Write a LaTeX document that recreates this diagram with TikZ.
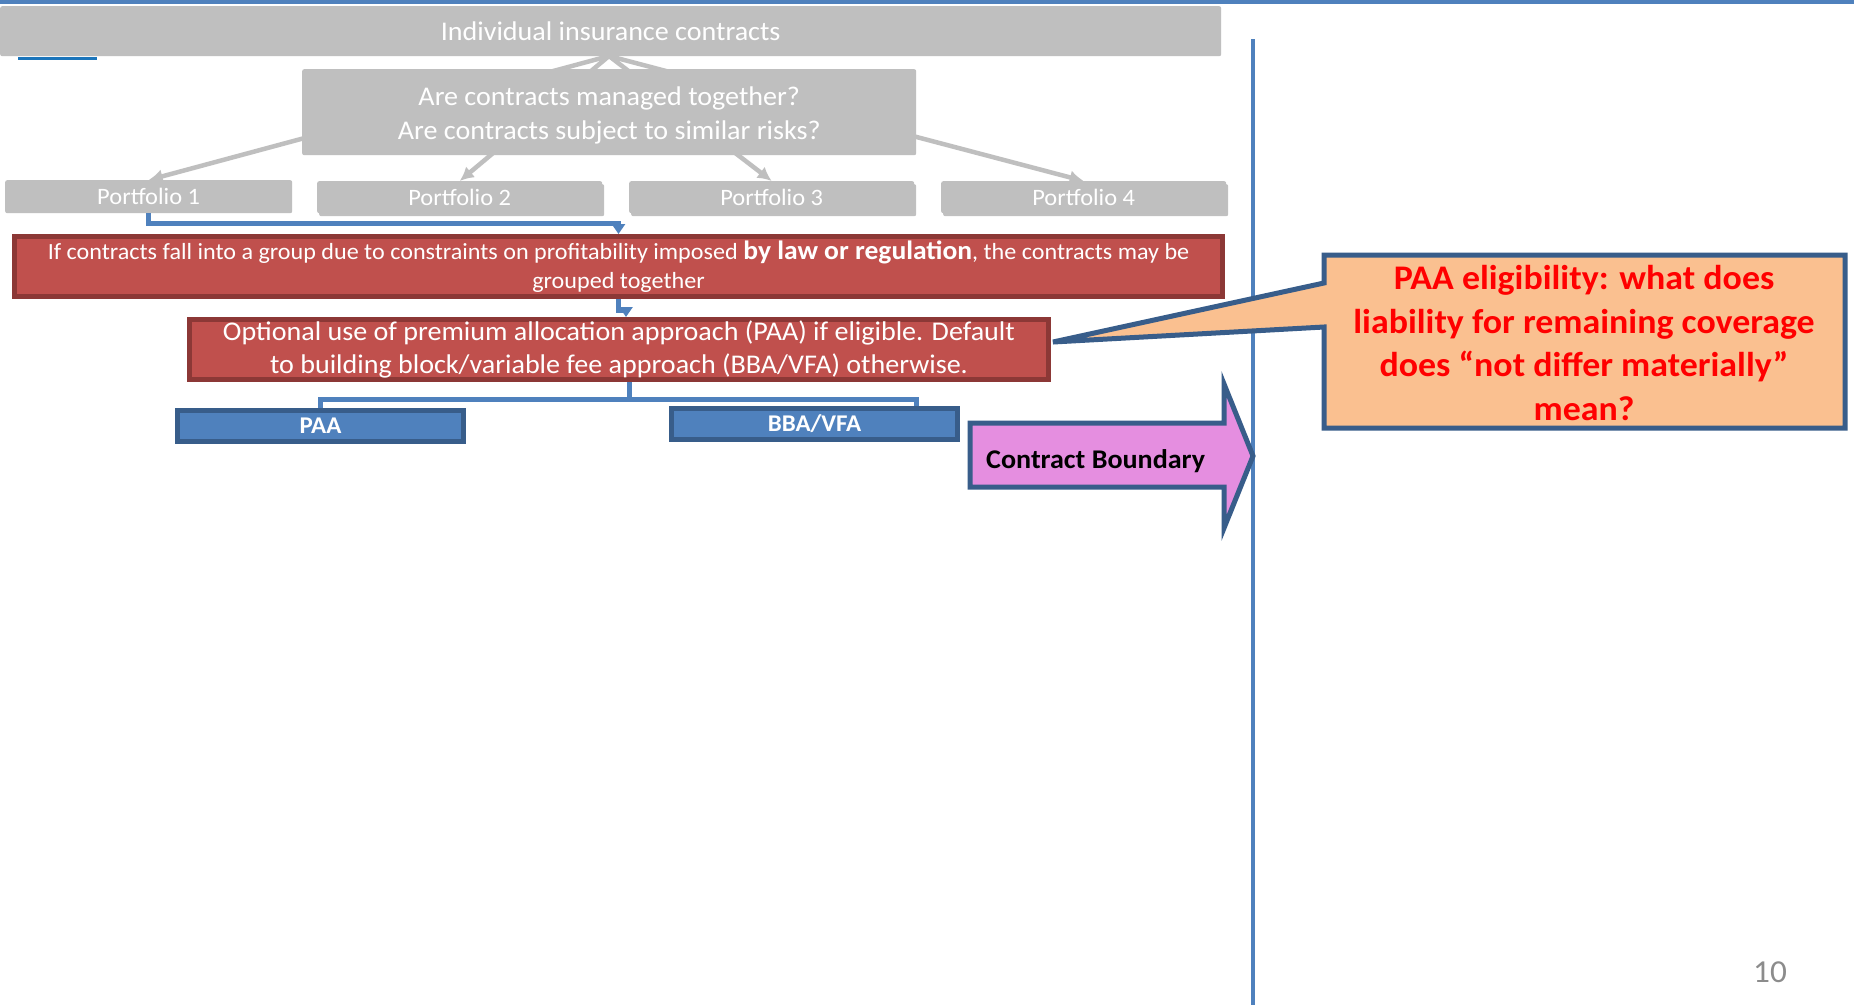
\documentclass[tikz,border=0pt]{standalone}
\usepackage{fontspec}
\setmainfont{Carlito}[FakeStretch=1.04]
\usetikzlibrary{arrows.meta,shadows,calc}
\definecolor{boxgray}{HTML}{BFBFBF}
\definecolor{accblue}{HTML}{4F81BD}
\definecolor{darkblue}{HTML}{385D8A}
\definecolor{accred}{HTML}{C0504D}
\definecolor{darkred}{HTML}{8C3836}
\definecolor{callfill}{HTML}{FAC090}
\definecolor{cbpink}{HTML}{E58EE0}
\definecolor{tealline}{HTML}{1B75BB}
\definecolor{pagegray}{HTML}{8C8C8C}
\begin{document}
\begin{tikzpicture}[x=1pt,y=-1pt,
  graybox/.style={fill=boxgray, draw=none, rounded corners=2pt, inner sep=0pt, text=white, anchor=north west, align=center},
  pfbox/.style={graybox, font=\fontsize{23.5}{27}\selectfont},
  shadowed/.style={drop shadow={shadow xshift=2pt, shadow yshift=-3pt, opacity=0.35, fill=black!70}},
  redbox/.style={fill=accred, draw=darkred, line width=5pt, inner sep=0pt, text=white, anchor=north west, align=center},
  bluebox/.style={fill=accblue, draw=darkblue, line width=5pt, inner sep=0pt, text=white, anchor=north west, font=\fontsize{24}{27}\selectfont\bfseries},
  grayarrow/.style={draw=boxgray, line width=4.5pt, -{Latex[length=14pt,width=14pt]}},
  blueconn/.style={draw=accblue, line width=5pt},
  bluearrow/.style={blueconn, -{Triangle[length=10pt,width=13pt]}}
]
\useasboundingbox (0,0) rectangle (1854,1005);
\fill[white] (0,0) rectangle (1854,1005);
% top rule
\fill[accblue] (0,0) rectangle (1854,4);
% top box
\node[graybox, minimum width=1221pt, minimum height=50pt, font=\fontsize{27}{31}\selectfont] (top) at (0,6) {Individual insurance contracts};
\draw[tealline, line width=3pt] (18,58) -- (97,58);
% portfolios
\node[pfbox, minimum width=287pt, minimum height=33pt] (p1) at (5,180) {Portfolio 1};
\node[pfbox, shadowed, minimum width=285pt, minimum height=32pt] (p2) at (317,181) {Portfolio 2};
\node[pfbox, shadowed, minimum width=285pt, minimum height=32pt] (p3) at (629,181) {Portfolio 3};
\node[pfbox, shadowed, minimum width=285pt, minimum height=32pt] (p4) at (941,181) {Portfolio 4};
% gray arrows
\coordinate (apex) at (609,56);
\draw[grayarrow] (apex) -- (p1.north);
\draw[grayarrow] (apex) -- (p2.north);
\draw[grayarrow] (apex) -- (p3.north);
\draw[grayarrow] (apex) -- (p4.north);
% question box
\node[graybox, minimum width=614pt, minimum height=86pt, font=\fontsize{27}{34}\selectfont] (q) at (302,69) {\raisebox{-3.5pt}[\height][\depth]{\begin{tabular}{@{}c@{}}Are contracts managed together?\\Are contracts subject to similar risks?\end{tabular}}};
% red boxes
\node[redbox, minimum width=1208pt, minimum height=60pt, font=\fontsize{23.2}{29}\selectfont] (red1) at (12,234) {If contracts fall into a group due to constraints on profitability imposed {\fontsize{26.5}{29}\selectfont\bfseries by law or regulation}, the contracts may be\\grouped together};
\node[redbox, minimum width=859pt, minimum height=60pt, font=\fontsize{27}{33}\selectfont] (red2) at (187,317) {Optional use of premium allocation approach (PAA) if eligible. Default\\to building block/variable fee approach (BBA/VFA) otherwise.};
% blue boxes
\node[bluebox, minimum width=286pt, minimum height=31pt] (paa) at (175,408) {PAA};
\node[bluebox, minimum width=286pt, minimum height=31pt] (bba) at (669,406) {BBA/VFA};
% blue connectors
\draw[bluearrow] (p1.south) -- ++(0,10) -| (red1.north);
\draw[bluearrow] (red1.south) -- ++(0,11) -| ([xshift=7pt]red2.north);
\coordinate (j) at ($(red2.south)+(10,17)$);
\draw[blueconn] ([xshift=10pt]red2.south) -- (j);
\draw[blueconn] (j) -| (paa.north);
\draw[blueconn] (j) -| ([xshift=102pt]bba.north);
% vertical divider
\draw[accblue, line width=4.5pt] (1253,39) -- (1253,1005);
% contract boundary arrow
\draw[fill=cbpink, draw=darkblue, line width=5pt, line join=miter] (970,423) -- (1224,423) -- (1224,384) -- (1253,456) -- (1224,528) -- (1224,487) -- (970,487) -- cycle;
\node[anchor=west, inner sep=0pt, font=\fontsize{27}{30}\selectfont\bfseries] (cb) at (986,461) {Contract Boundary};
% callout
\draw[fill=callfill, draw=darkblue, line width=5pt, line join=miter] (1324,255) -- (1845,255) -- (1845,428) -- (1324,428) -- (1324,327) -- (1053,342) -- (1324,283) -- cycle;
\node[align=center, inner sep=0pt, text=red, font=\fontsize{34.5}{43.5}\selectfont\bfseries] (call) at (1584,343) {PAA eligibility: what does\\liability for remaining coverage\\does “not differ materially”\\mean?};
% page number
\node[text=pagegray, inner sep=0pt, font=\fontsize{32}{36}\selectfont] (pg) at (1770,972) {10};
\end{tikzpicture}
\end{document}
